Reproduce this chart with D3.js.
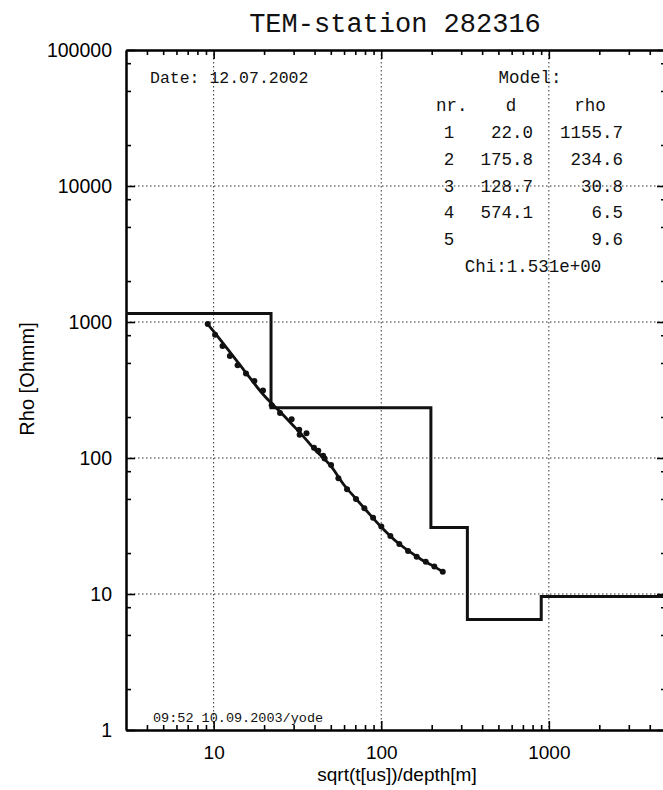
<!DOCTYPE html>
<html>
<head>
<meta charset="utf-8">
<script src="https://cdn.jsdelivr.net/npm/d3@7/dist/d3.min.js"></script>
<style>
  body { margin: 0; background: #fff; }
  svg { display: block; }
</style>
</head>
<body>
<script>
// Observed apparent resistivity: sqrt(t[us]) and rho [Ohmm]
const timeSqrt = [9.22, 10.2, 11.3, 12.5, 13.9, 15.6, 17.5, 19.7, 22.2, 24.9, 29.2, 32.4, 32.6, 35.8,
                  39.7, 42.1, 45.0, 45.9, 50.2, 55.5, 62.5, 70.7, 79.3, 89.4, 100.1, 113.4, 128.2,
                  144.5, 162.8, 184.3, 207.4, 232.8];
const rhoObs   = [967, 807, 666, 562, 480, 419, 368, 313, 244, 214, 193, 161, 148, 152,
                  119, 113, 104, 99, 89, 71, 59, 50, 42.7, 36.4, 31.3, 26.7, 23.3,
                  20.7, 18.8, 17.3, 15.9, 14.6];

// Forward response of the fitted model
const fitT   = [9.2, 10, 15, 20, 25, 30, 35, 40, 50, 60, 70, 80, 100, 125, 150, 175, 200, 233];
const fitRho = [967, 852, 451, 288, 218, 172, 140, 116, 87.4, 63.3, 50.8, 42.2, 31.1, 23.9, 20.2, 17.8, 16.3, 14.6];

// Layered model: thickness d [m] and resistivity rho [Ohmm]
const layerNr  = [1, 2, 3, 4, 5];
const layerD   = [22.0, 175.8, 128.7, 574.1, null];
const layerRho = [1155.7, 234.6, 30.8, 6.5, 9.6];
const chiText  = "Chi:1.531e+00";

const xMajor = [10, 100, 1000];
const yMajor = [1, 10, 100, 1000, 10000, 100000];
const xGrid  = [10, 100, 1000];
const yGrid  = [10, 100, 1000, 10000];

const W = 663, H = 790;
const svg = d3.select("body").append("svg").attr("width", W).attr("height", H);

const L = 126, R = 666, T = 50, B = 730;
const x = d3.scaleLog().domain([3, 5000]).range([L, R]);
const y = d3.scaleLog().domain([1, 100000]).range([B, T]);

const mono = "'Liberation Mono', 'DejaVu Sans Mono', monospace";
const sans = "'Liberation Sans', Arial, sans-serif";

// minor tick values
const xMinor = [], yMinor = [];
for (let e = 0; e <= 3; e++) for (let k = 2; k <= 9; k++) {
  const v = k * Math.pow(10, e);
  if (v > 3 && v < 5000) xMinor.push(v);
}
for (let e = 0; e <= 4; e++) for (const k of [2, 5, 8]) yMinor.push(k * Math.pow(10, e));

// dotted decade grid
const grid = svg.append("g").attr("stroke", "#333").attr("stroke-width", 1)
  .attr("stroke-dasharray", "1.5,2.5").attr("fill", "none");
grid.selectAll("line.gx").data(xGrid).join("line").attr("class", "gx")
  .attr("x1", d => x(d)).attr("x2", d => x(d)).attr("y1", T).attr("y2", B);
grid.selectAll("line.gy").data(yGrid).join("line").attr("class", "gy")
  .attr("x1", L).attr("x2", R).attr("y1", d => y(d)).attr("y2", d => y(d));

// axes with inward ticks
function styleAxis(g) {
  g.selectAll("path.domain").attr("stroke", "#000").attr("stroke-width", 2);
  g.selectAll(".tick line").attr("stroke", "#000").attr("stroke-width", 1.6);
}
svg.append("g").attr("transform", `translate(0,${B})`)
  .call(d3.axisBottom(x).tickValues(xMinor).tickSize(-5).tickSizeOuter(0).tickFormat(""))
  .call(styleAxis);
svg.append("g").attr("transform", `translate(0,${B})`)
  .call(d3.axisBottom(x).tickValues(xMajor).tickSize(-9).tickSizeOuter(0).tickPadding(16)
        .tickFormat(d3.format("d")))
  .call(styleAxis)
  .call(g => g.selectAll("text").attr("font-family", sans).attr("font-size", 19).attr("fill", "#000"));
svg.append("g").attr("transform", `translate(0,${T})`)
  .call(d3.axisTop(x).tickValues(xMinor).tickSize(-5).tickSizeOuter(0).tickFormat(""))
  .call(styleAxis);
svg.append("g").attr("transform", `translate(0,${T})`)
  .call(d3.axisTop(x).tickValues(xMajor).tickSize(-9).tickSizeOuter(0).tickFormat(""))
  .call(styleAxis);
svg.append("g").attr("transform", `translate(${L},0)`)
  .call(d3.axisLeft(y).tickValues(yMinor).tickSize(-5).tickSizeOuter(0).tickFormat(""))
  .call(styleAxis);
svg.append("g").attr("transform", `translate(${L},0)`)
  .call(d3.axisLeft(y).tickValues(yMajor).tickSize(-9).tickSizeOuter(0).tickPadding(14)
        .tickFormat(d3.format("d")))
  .call(styleAxis)
  .call(g => g.selectAll("text").attr("font-family", sans).attr("font-size", 19.5).attr("fill", "#000"));
svg.append("g").attr("transform", `translate(${R},0)`)
  .call(d3.axisRight(y).tickValues(yMinor).tickSize(-5).tickSizeOuter(0).tickFormat(""))
  .call(styleAxis);
svg.append("g").attr("transform", `translate(${R},0)`)
  .call(d3.axisRight(y).tickValues(yMajor).tickSize(-9).tickSizeOuter(0).tickFormat(""))
  .call(styleAxis);

// layered model as a step curve
const depthTops = [3];
let acc = 0;
layerD.forEach(d => { if (d != null) { acc += d; depthTops.push(acc); } });
const stepPts = layerRho.map((r, i) => [depthTops[i], r]);
stepPts.push([5000, layerRho[layerRho.length - 1]]);
svg.append("path").datum(stepPts)
  .attr("d", d3.line().x(d => x(d[0])).y(d => y(d[1])).curve(d3.curveStepAfter))
  .attr("fill", "none").attr("stroke", "#111").attr("stroke-width", 3);

// fitted response
svg.append("path").datum(fitT.map((t, i) => [t, fitRho[i]]))
  .attr("d", d3.line().x(d => x(d[0])).y(d => y(d[1])).curve(d3.curveMonotoneX))
  .attr("fill", "none").attr("stroke", "#111").attr("stroke-width", 2.8);

// observed data
svg.append("g").selectAll("circle").data(timeSqrt.map((t, i) => [t, rhoObs[i]])).join("circle")
  .attr("cx", d => x(d[0])).attr("cy", d => y(d[1])).attr("r", 3).attr("fill", "#111");

// titles
svg.append("text").attr("x", 395).attr("y", 32).attr("text-anchor", "middle")
  .attr("font-family", mono).attr("font-size", 27).attr("fill", "#111").text("TEM-station 282316");
svg.append("text").attr("x", 397).attr("y", 781).attr("text-anchor", "middle")
  .attr("font-family", sans).attr("font-size", 19).attr("fill", "#000").text("sqrt(t[us])/depth[m]");
svg.append("text").attr("transform", "translate(34,379) rotate(-90)").attr("text-anchor", "middle")
  .attr("font-family", sans).attr("font-size", 20).attr("fill", "#000").text("Rho [Ohmm]");

// annotations
const note = svg.append("g").attr("font-family", mono).attr("fill", "#111");
note.append("text").attr("x", 150).attr("y", 83).attr("font-size", 16.5).text("Date: 12.07.2002");
note.append("text").attr("x", 153).attr("y", 722).attr("font-size", 13.5).text("09:52 10.09.2003/yode");

const tf = 17.5;
note.append("text").attr("x", 530).attr("y", 83).attr("text-anchor", "middle").attr("font-size", tf).text("Model:");
note.append("text").attr("x", 436).attr("y", 111).attr("font-size", tf).text("nr.");
note.append("text").attr("x", 511).attr("y", 111).attr("text-anchor", "middle").attr("font-size", tf).text("d");
note.append("text").attr("x", 590).attr("y", 111).attr("text-anchor", "middle").attr("font-size", tf).text("rho");
const rowY = [138, 165, 192, 218, 245];
layerNr.forEach((n, i) => {
  note.append("text").attr("x", 449).attr("y", rowY[i]).attr("text-anchor", "middle").attr("font-size", tf).text(n);
  if (layerD[i] != null)
    note.append("text").attr("x", 533).attr("y", rowY[i]).attr("text-anchor", "end").attr("font-size", tf).text(layerD[i].toFixed(1));
  note.append("text").attr("x", 623).attr("y", rowY[i]).attr("text-anchor", "end").attr("font-size", tf).text(layerRho[i].toFixed(1));
});
note.append("text").attr("x", 533).attr("y", 272).attr("text-anchor", "middle").attr("font-size", tf).text(chiText);
</script>
</body>
</html>
